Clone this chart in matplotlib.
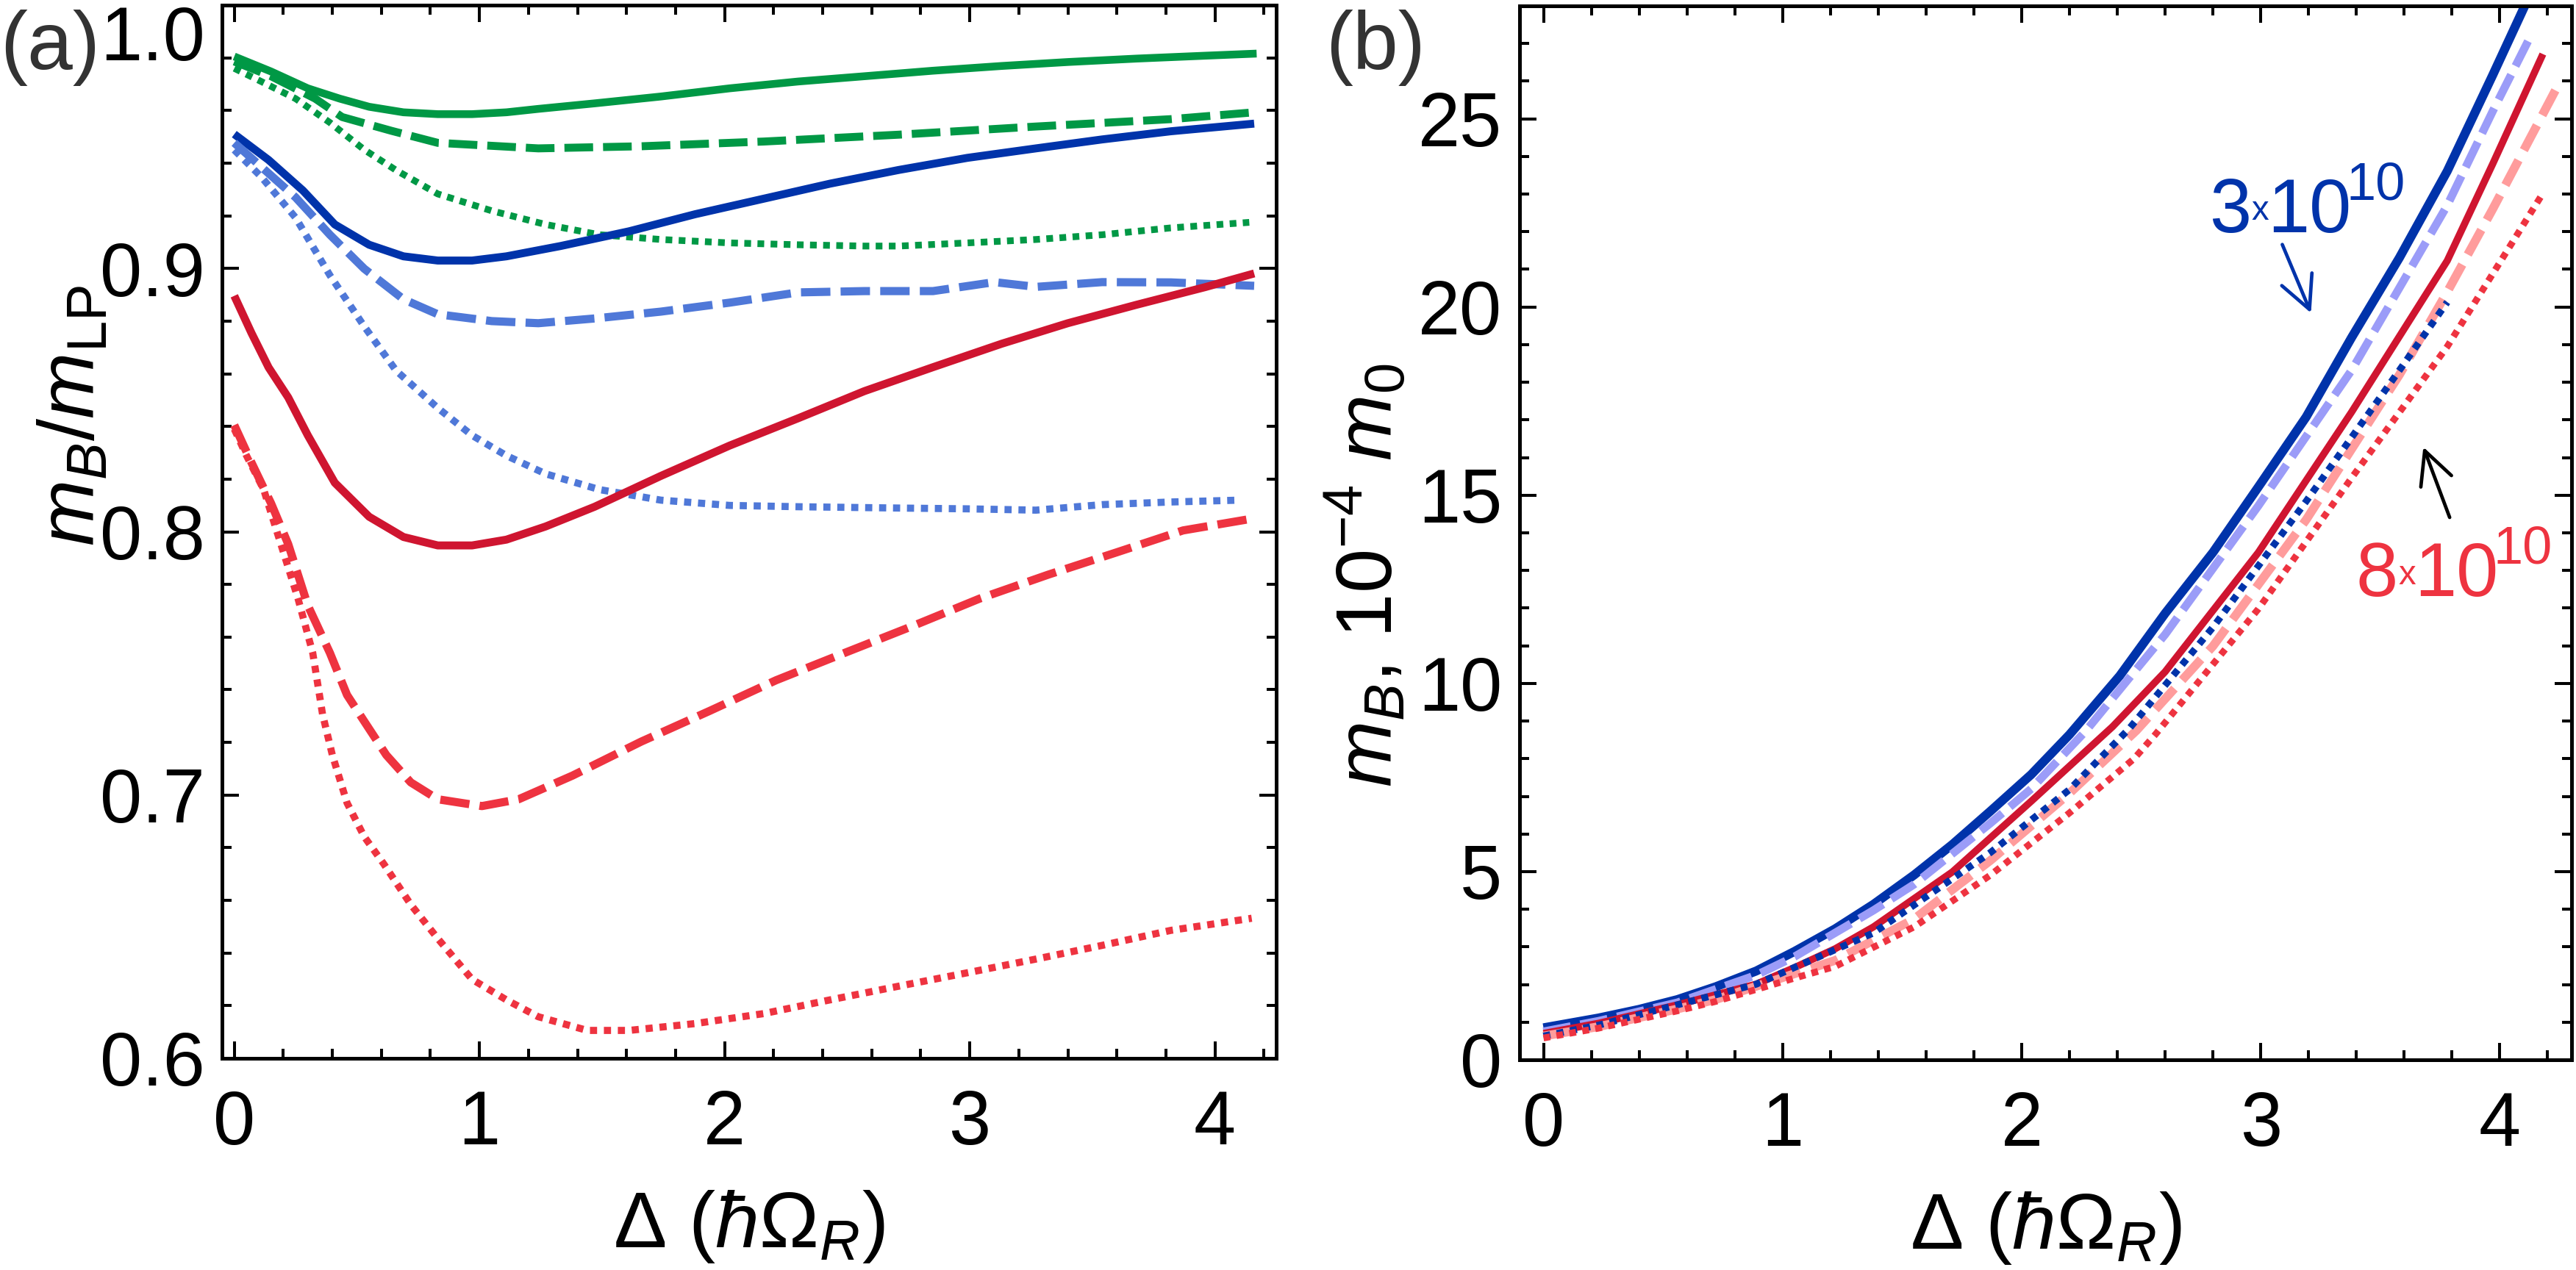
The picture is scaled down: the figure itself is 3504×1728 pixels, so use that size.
import matplotlib
matplotlib.use("Agg")
import matplotlib.pyplot as plt
from matplotlib.ticker import MultipleLocator, FormatStrFormatter

plt.rcParams['font.family'] = ['Liberation Sans', 'DejaVu Sans']
plt.rcParams['mathtext.fontset'] = 'custom'
plt.rcParams['mathtext.rm'] = 'Liberation Sans'
plt.rcParams['mathtext.it'] = 'Liberation Sans:italic'
plt.rcParams['mathtext.bf'] = 'Liberation Sans:bold'

# ---------------- Panel (a) data: m_B / m_LP ----------------
green_solid_x = [0, 0.15, 0.30, 0.43, 0.55, 0.69, 0.83, 0.97, 1.11, 1.24, 1.47, 1.74, 2.02, 2.30, 2.57, 2.85, 3.13, 3.40, 3.68, 3.96, 4.17]
green_solid_y = [0.9805, 0.9748, 0.9684, 0.9645, 0.9614, 0.9593, 0.9586, 0.9586, 0.9593, 0.9606, 0.9627, 0.9653, 0.9684, 0.9710, 0.9730, 0.9751, 0.9769, 0.9784, 0.9797, 0.9808, 0.9816]

green_dash_x = [0, 0.15, 0.33, 0.44, 0.64, 0.83, 1.24, 1.66, 2.16, 2.71, 3.27, 3.82, 4.16]
green_dash_y = [0.9786, 0.9730, 0.9645, 0.9575, 0.9523, 0.9477, 0.9456, 0.9464, 0.9482, 0.9508, 0.9539, 0.9567, 0.9593]

green_dot_x = [0, 0.11, 0.25, 0.39, 0.53, 0.66, 0.83, 1.05, 1.27, 1.49, 1.74, 2.02, 2.30, 2.57, 2.71, 2.99, 3.27, 3.54, 3.82, 4.14]
green_dot_y = [0.976, 0.971, 0.9645, 0.9554, 0.9451, 0.9373, 0.9283, 0.9219, 0.9167, 0.9128, 0.9110, 0.9097, 0.9090, 0.9085, 0.9085, 0.9097, 0.9110, 0.9128, 0.9154, 0.9175]

blue_solid_x = [0, 0.14, 0.28, 0.41, 0.55, 0.69, 0.83, 0.97, 1.11, 1.33, 1.61, 1.88, 2.16, 2.43, 2.71, 2.99, 3.27, 3.54, 3.82, 4.16]
blue_solid_y = [0.951, 0.9412, 0.9296, 0.9167, 0.9090, 0.9046, 0.9030, 0.9030, 0.9046, 0.9085, 0.9141, 0.9206, 0.9265, 0.9322, 0.9374, 0.9420, 0.9456, 0.9490, 0.9521, 0.9550]

blue_dash_x = [0, 0.11, 0.25, 0.39, 0.53, 0.69, 0.83, 1.05, 1.24, 1.47, 1.74, 2.02, 2.30, 2.57, 2.85, 3.10, 3.27, 3.54, 3.82, 4.16]
blue_dash_y = [0.9477, 0.9386, 0.9270, 0.9128, 0.8999, 0.8883, 0.8826, 0.8800, 0.8792, 0.8810, 0.8836, 0.8870, 0.8909, 0.8914, 0.8914, 0.8948, 0.8930, 0.8948, 0.8947, 0.8934]

blue_dot_x = [0, 0.11, 0.25, 0.39, 0.53, 0.66, 0.83, 0.97, 1.11, 1.27, 1.49, 1.74, 2.02, 2.30, 2.71, 2.99, 3.27, 3.54, 3.82, 4.10]
blue_dot_y = [0.945, 0.9348, 0.9193, 0.8974, 0.8780, 0.8612, 0.8470, 0.8366, 0.8289, 0.8220, 0.8160, 0.8120, 0.8100, 0.8095, 0.8090, 0.8087, 0.8082, 0.8103, 0.8113, 0.8120]

red_solid_x = [0, 0.07, 0.14, 0.22, 0.30, 0.41, 0.55, 0.69, 0.83, 0.97, 1.11, 1.27, 1.47, 1.74, 2.02, 2.30, 2.57, 2.85, 3.13, 3.40, 3.68, 3.96, 4.16]
red_solid_y = [0.8896, 0.8755, 0.8624, 0.8510, 0.8366, 0.8186, 0.8057, 0.7980, 0.7948, 0.7948, 0.7970, 0.8020, 0.8095, 0.8212, 0.8327, 0.8431, 0.8534, 0.8625, 0.8714, 0.8792, 0.8862, 0.8929, 0.8981]

red_dash_x = [0, 0.07, 0.15, 0.22, 0.30, 0.39, 0.46, 0.53, 0.62, 0.72, 0.83, 1.01, 1.16, 1.38, 1.66, 1.94, 2.21, 2.49, 2.77, 3.04, 3.32, 3.60, 3.87, 4.16]
red_dash_y = [0.8405, 0.8263, 0.8108, 0.7953, 0.7720, 0.7540, 0.7380, 0.7280, 0.7152, 0.7048, 0.6984, 0.6958, 0.6984, 0.7074, 0.7203, 0.7320, 0.7436, 0.7540, 0.7643, 0.7746, 0.7837, 0.7922, 0.8005, 0.8051]

red_dot_x = [0, 0.05, 0.12, 0.19, 0.26, 0.32, 0.36, 0.40, 0.46, 0.53, 0.61, 0.72, 0.83, 0.97, 1.11, 1.24, 1.44, 1.61, 1.88, 2.16, 2.43, 2.71, 2.99, 3.27, 3.54, 3.82, 4.15]
red_dot_y = [0.839, 0.8289, 0.8160, 0.7953, 0.7746, 0.7540, 0.7307, 0.7152, 0.6970, 0.6842, 0.6738, 0.6584, 0.6455, 0.6300, 0.6222, 0.6158, 0.6106, 0.6106, 0.6132, 0.6170, 0.6222, 0.6274, 0.6325, 0.6377, 0.6429, 0.6486, 0.6532]

# ---------------- Panel (b) data: m_B in 1e-4 m0 ----------------
b_blue_solid_x = [0, 0.23, 0.40, 0.56, 0.72, 0.89, 1.05, 1.22, 1.38, 1.55, 1.71, 1.87, 2.04, 2.20, 2.41, 2.60, 2.80, 2.99, 3.19, 3.38, 3.58, 3.78, 3.97, 4.11]
b_blue_solid_y = [0.85, 1.11, 1.34, 1.60, 1.94, 2.36, 2.88, 3.48, 4.13, 4.91, 5.72, 6.61, 7.58, 8.64, 10.2, 11.86, 13.48, 15.22, 17.08, 19.19, 21.31, 23.61, 26.16, 28.08]

b_lav_dash_x = [0, 0.23, 0.56, 0.89, 1.05, 1.38, 1.55, 1.87, 2.04, 2.27, 2.47, 2.60, 2.99, 3.38, 3.78, 3.97, 4.12]
b_lav_dash_y = [0.75, 1.03, 1.52, 2.25, 2.74, 3.97, 4.66, 6.29, 7.20, 8.75, 10.3, 11.3, 14.72, 18.32, 22.7, 25.2, 27.09]

b_red_solid_x = [0, 0.23, 0.56, 0.89, 1.05, 1.22, 1.38, 1.71, 2.04, 2.38, 2.60, 2.99, 3.38, 3.78, 3.97, 4.18]
b_red_solid_y = [0.70, 0.97, 1.46, 2.01, 2.45, 2.95, 3.53, 4.99, 6.87, 8.85, 10.31, 13.48, 17.21, 21.23, 23.8, 26.72]

b_pink_dash_x = [0, 0.23, 0.56, 0.72, 1.22, 1.55, 1.87, 2.20, 2.48, 2.80, 3.19, 3.58, 3.78, 3.97, 4.24]
b_pink_dash_y = [0.63, 0.88, 1.35, 1.60, 2.64, 3.74, 5.30, 7.08, 8.75, 10.99, 14.35, 18.2, 20.4, 22.6, 25.85]

b_blue_dot_x = [0, 0.23, 0.56, 0.89, 1.38, 1.87, 2.20, 2.45, 2.80, 3.19, 3.58, 3.78]
b_blue_dot_y = [0.63, 0.92, 1.46, 2.01, 3.37, 5.51, 7.18, 8.8, 11.49, 14.84, 18.32, 20.13]

b_red_dot_x = [0, 0.23, 0.56, 0.72, 1.05, 1.22, 1.55, 1.87, 2.20, 2.47, 2.56, 2.99, 3.38, 3.78, 4.03, 4.17]
b_red_dot_y = [0.58, 0.84, 1.30, 1.55, 2.17, 2.48, 3.53, 4.91, 6.56, 8.0, 8.65, 11.98, 15.46, 18.95, 21.49, 22.92]

a_yticks = [0.6, 0.7, 0.8, 0.9, 1.0]
b_yticks = [0, 5, 10, 15, 20, 25]
x_ticks = [0, 1, 2, 3, 4]

# density labels in (b): mantissa, exponent
dens_low = ('3', '10')
dens_high = ('8', '10')

# colours
GREEN = '#009845'
DBLUE = '#0033aa'
MBLUE = '#4f78d8'
RED = '#cf1530'
LRED = '#ee3340'
LAV = '#9b9cf8'
PINK = '#ff9c9c'

W, H = 3504, 1728
DPI = 200
fig = plt.figure(figsize=(W / DPI, H / DPI), dpi=DPI)

ax1 = fig.add_axes([302 / W, 1 - 1440 / H, (1736 - 302) / W, (1440 - 7) / H])
ax2 = fig.add_axes([2067 / W, 1 - 1442 / H, (3498 - 2067) / W, (1442 - 8) / H])

TICK_FS = 37
LABEL_FS = 39

DASH = (3.6, 1.25)
DOT = (1.0, 0.95)

def line(ax, x, y, color, style, lw, dashes=None):
    ln, = ax.plot(x, y, color=color, lw=lw, solid_capstyle='butt',
                  dash_capstyle='butt', solid_joinstyle='round')
    if style == 'dash':
        ln.set_dashes(dashes or DASH)
    elif style == 'dot':
        ln.set_dashes(dashes or DOT)
    return ln

# Panel (a)
line(ax1, green_solid_x, green_solid_y, GREEN, 'solid', 3.8)
line(ax1, green_dash_x, green_dash_y, GREEN, 'dash', 3.9)
line(ax1, green_dot_x, green_dot_y, GREEN, 'dot', 3.3)
line(ax1, blue_solid_x, blue_solid_y, DBLUE, 'solid', 3.9)
line(ax1, blue_dash_x, blue_dash_y, MBLUE, 'dash', 4.0)
line(ax1, blue_dot_x, blue_dot_y, MBLUE, 'dot', 3.5)
line(ax1, red_solid_x, red_solid_y, RED, 'solid', 3.9)
line(ax1, red_dash_x, red_dash_y, LRED, 'dash', 4.0)
line(ax1, red_dot_x, red_dot_y, LRED, 'dot', 3.5)

ax1.set_xlim(-0.05, 4.25)
ax1.set_ylim(0.6, 1.0)
ax1.set_yticks(a_yticks)
ax1.yaxis.set_major_formatter(FormatStrFormatter('%.1f'))
ax1.yaxis.set_minor_locator(MultipleLocator(0.02))

# Panel (b)
line(ax2, b_blue_solid_x, b_blue_solid_y, DBLUE, 'solid', 4.4)
line(ax2, b_lav_dash_x, b_lav_dash_y, LAV, 'dash', 4.0, dashes=(3.4, 1.2))
line(ax2, b_red_solid_x, b_red_solid_y, RED, 'solid', 3.5)
line(ax2, b_pink_dash_x, b_pink_dash_y, PINK, 'dash', 4.3, dashes=(3.2, 1.3))
line(ax2, b_blue_dot_x, b_blue_dot_y, DBLUE, 'dot', 3.4)
line(ax2, b_red_dot_x, b_red_dot_y, LRED, 'dot', 3.3)

ax2.set_xlim(-0.1, 4.3)
ax2.set_ylim(0, 28)
ax2.set_yticks(b_yticks)
ax2.yaxis.set_minor_locator(MultipleLocator(1))

for ax in (ax1, ax2):
    ax.set_xticks(x_ticks)
    ax.xaxis.set_minor_locator(MultipleLocator(0.2))
    for s in ax.spines.values():
        s.set_linewidth(1.8)
    ax.tick_params(which='both', direction='in', top=True, right=True, width=1.45)
    ax.tick_params(which='major', length=8.4)
    ax.tick_params(which='minor', length=4.8)
    ax.tick_params(axis='x', which='major', labelsize=TICK_FS, pad=15)
    ax.tick_params(axis='y', which='major', labelsize=TICK_FS, pad=8.5)
    ax.set_xlabel(r'$\Delta$ ($\hbar\Omega_R$)', fontsize=LABEL_FS)
    ax.xaxis.set_label_coords(0.5, -0.16)
    ax.xaxis.label.set_va('center')

# top tick label of panel (a) shifted down so it stays inside the figure
fig.canvas.draw()
for lab in ax1.get_yticklabels():
    if lab.get_text() == '1.0':
        lab.set_va('top')

ax1.set_ylabel(r'$m_B/m_{\mathrm{LP}}$', fontsize=LABEL_FS)
ax1.yaxis.set_label_coords(-0.140, 0.61)
ax1.yaxis.label.set_va('center')

ax2.set_ylabel(r'$m_B$, 10$^{-4}$ $m_0$', fontsize=LABEL_FS)
ax2.yaxis.set_label_coords(-0.146, 0.46)
ax2.yaxis.label.set_va('center')

# panel letters
fig.text(0 / W, 1 - 13 / H, '(a)', fontsize=40, color='#333333', ha='left', va='top')
fig.text(1803 / W, 1 - 13 / H, '(b)', fontsize=40, color='#333333', ha='left', va='top')

# density annotations in (b): mantissa, small x, "10", superscript exponent
def density_label(ax, x0, y0, mant, expo, color):
    ax.text(x0, y0, mant, fontsize=TICK_FS, color=color, ha='left', va='baseline')
    ax.text(x0 + 0.178, y0 + 0.32, 'x', fontsize=17, color=color, ha='left', va='baseline')
    ax.text(x0 + 0.244, y0, '10', fontsize=TICK_FS, color=color, ha='left', va='baseline')
    ax.text(x0 + 0.574, y0 + 0.87, expo, fontsize=26, color=color, ha='left', va='baseline')

density_label(ax2, 2.784, 21.99, dens_low[0], dens_low[1], DBLUE)
density_label(ax2, 3.398, 12.32, dens_high[0], dens_high[1], LRED)

arr = dict(arrowstyle='->,head_length=0.8,head_width=0.4', lw=1.7, mutation_scale=20,
           shrinkA=0, shrinkB=0)
ax2.annotate('', xy=(3.21, 19.84), xytext=(3.09, 21.66), arrowprops=dict(arr, color=DBLUE))
ax2.annotate('', xy=(3.68, 16.28), xytext=(3.79, 14.41), arrowprops=dict(arr, color='black'))

fig.savefig('out.png', dpi=DPI)
